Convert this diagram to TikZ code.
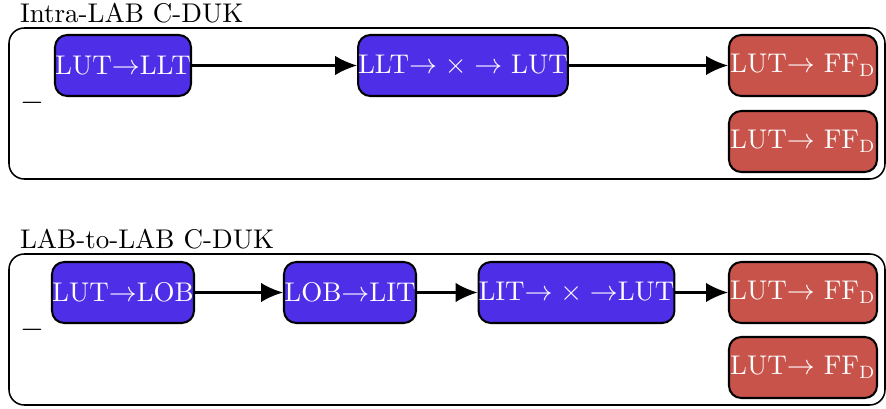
\documentclass[tikz,border=0pt]{standalone}
\usetikzlibrary{arrows.meta}
\newcommand\pxu{0.3922pt}
\definecolor{stageblue}{RGB}{79,46,232}
\definecolor{stagered}{RGB}{199,83,74}
\tikzset{
  stage/.style={draw=black, thick, rounded corners=4.8pt, text=white,
    inner sep=0pt, minimum height=61*\pxu, font=\fontsize{10.6}{12.7}\selectfont},
  bluestage/.style={stage, fill=stageblue},
  redstage/.style={stage, fill=stagered},
  groupbox/.style={draw=black, semithick, rounded corners=6pt},
  flow/.style={thick, -{Latex[length=8.6pt,width=7.6pt]}},
  grouptitle/.style={anchor=base west, inner sep=0pt, font=\fontsize{10.6}{12.7}\selectfont},
  mark label/.style={inner sep=0pt, font=\fontsize{11.5}{13.8}\selectfont},
}
\begin{document}
\begin{tikzpicture}[x=\pxu, y=-\pxu]
\useasboundingbox (0,0) rectangle (886,409);

% Intra-LAB group
\node[grouptitle] (t1) at (19.5,22) {Intra-LAB C-DUK};
\draw[groupbox] (9,28) rectangle (885,179);
\node[mark label] (m1) at (32,103) {$-$};
\node[bluestage, minimum width=136*\pxu] (a1) at (123,65.5) {LUT$\rightarrow$LLT};
\node[bluestage, minimum width=208*\pxu] (a2) at (463,65.5) {LLT$\rightarrow\times\rightarrow$ LUT};
\node[redstage, minimum width=148*\pxu] (a3) at (803,65.5) {LUT$\rightarrow$ FF$_\mathrm{D}$};
\node[redstage, minimum width=148*\pxu] (a4) at (803,141.5) {LUT$\rightarrow$ FF$_\mathrm{D}$};
\draw[flow] (a1) -- (a2);
\draw[flow] (a2) -- (a3);

% LAB-to-LAB group
\node[grouptitle] (t2) at (19.5,248) {LAB-to-LAB C-DUK};
\draw[groupbox] (9,254) rectangle (885,405);
\node[mark label] (m2) at (32,330) {$-$};
\node[bluestage, minimum width=142*\pxu] (b1) at (123,292.5) {LUT$\rightarrow$LOB};
\node[bluestage, minimum width=132*\pxu] (b2) at (350,292.5) {LOB$\rightarrow$LIT};
\node[bluestage, minimum width=193*\pxu] (b3) at (576.5,292.5) {LIT$\rightarrow\times\rightarrow$LUT};
\node[redstage, minimum width=148*\pxu] (b4) at (803,292.5) {LUT$\rightarrow$ FF$_\mathrm{D}$};
\node[redstage, minimum width=148*\pxu] (b5) at (803,367.5) {LUT$\rightarrow$ FF$_\mathrm{D}$};
\draw[flow] (b1) -- (b2);
\draw[flow] (b2) -- (b3);
\draw[flow] (b3) -- (b4);
\end{tikzpicture}
\end{document}
